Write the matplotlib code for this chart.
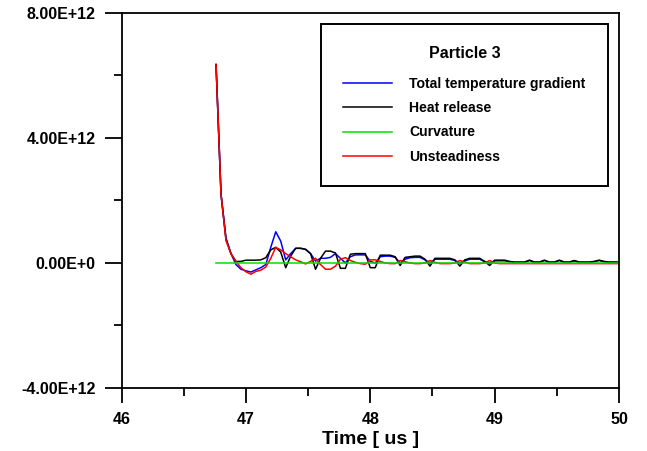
#!/usr/bin/env python3
"""
Particle 3: temperature gradient budget vs time.
"""

import matplotlib
matplotlib.use("Agg")
import matplotlib.pyplot as plt
from matplotlib.ticker import FixedLocator, MultipleLocator

# time samples [us]
time_us = [
    46.76, 46.80, 46.84, 46.88, 46.92, 46.96, 47.00, 47.04, 47.08, 47.12,
    47.16, 47.20, 47.24, 47.28, 47.32, 47.36, 47.40, 47.44, 47.48, 47.52,
    47.56, 47.60, 47.64, 47.68, 47.72, 47.76, 47.80, 47.84, 47.88, 47.92,
    47.96, 48.00, 48.04, 48.08, 48.12, 48.16, 48.20, 48.24, 48.28, 48.32,
    48.36, 48.40, 48.44, 48.48, 48.52, 48.56, 48.60, 48.64, 48.68, 48.72,
    48.76, 48.80, 48.84, 48.88, 48.92, 48.96, 49.00, 49.04, 49.08, 49.12,
    49.16, 49.20, 49.24, 49.28, 49.32, 49.36, 49.40, 49.44, 49.48, 49.52,
    49.56, 49.60, 49.64, 49.68, 49.72, 49.76, 49.80, 49.84, 49.88, 49.92,
    49.96, 50.00,
]

# values in units of 1e12
total_gradient = [
    6.35, 2.20, 0.80, 0.30, -0.05, -0.20, -0.25, -0.29, -0.22, -0.15,
    -0.05, 0.50, 1.00, 0.70, 0.10, 0.30, 0.47, 0.47, 0.43, 0.30,
    0.06, 0.15, 0.15, 0.18, 0.30, 0.15, 0.00, 0.20, 0.26, 0.26,
    0.26, 0.05, 0.00, 0.20, 0.22, 0.22, 0.18, 0.00, 0.12, 0.17,
    0.18, 0.18, 0.10, 0.00, 0.12, 0.12, 0.12, 0.12, 0.08, 0.00,
    0.07, 0.12, 0.12, 0.12, 0.04, 0.00, 0.07, 0.07, 0.07, 0.04,
    0.02, 0.02, 0.02, 0.08, 0.02, 0.02, 0.08, 0.02, 0.02, 0.08,
    0.02, 0.02, 0.07, 0.02, 0.02, 0.02, 0.04, 0.08, 0.04, 0.02,
    0.02, 0.02,
]

heat_release = [
    6.35, 2.20, 0.75, 0.30, 0.05, 0.05, 0.09, 0.09, 0.09, 0.10,
    0.17, 0.42, 0.50, 0.35, -0.15, 0.22, 0.47, 0.47, 0.44, 0.30,
    -0.20, 0.15, 0.38, 0.38, 0.32, -0.17, -0.17, 0.28, 0.30, 0.30,
    0.30, -0.15, -0.15, 0.25, 0.25, 0.25, 0.20, -0.08, 0.18, 0.20,
    0.22, 0.22, 0.12, -0.10, 0.15, 0.15, 0.15, 0.15, 0.10, -0.10,
    0.10, 0.15, 0.15, 0.15, 0.05, -0.08, 0.09, 0.09, 0.09, 0.05,
    0.03, 0.03, 0.03, 0.09, 0.03, 0.03, 0.09, 0.03, 0.03, 0.09,
    0.03, 0.03, 0.08, 0.03, 0.03, 0.03, 0.05, 0.09, 0.05, 0.03,
    0.03, 0.03,
]

curvature = [0.0] * 82

unsteadiness = [
    6.35, 2.20, 0.72, 0.30, 0.05, -0.15, -0.28, -0.36, -0.27, -0.23,
    -0.13, 0.15, 0.50, 0.42, 0.30, 0.20, 0.10, 0.04, -0.03, 0.05,
    0.15, -0.05, -0.20, -0.20, -0.10, 0.12, 0.17, 0.08, 0.02, -0.02,
    -0.04, 0.10, 0.10, 0.05, 0.00, -0.02, -0.02, 0.08, 0.04, 0.00,
    -0.02, -0.02, 0.00, 0.08, 0.02, -0.02, -0.02, -0.02, 0.00, 0.08,
    0.03, -0.02, -0.02, -0.02, 0.00, 0.08, 0.00, -0.02, -0.02, -0.02,
    -0.02, -0.02, -0.02, -0.02, -0.02, -0.02, -0.02, -0.02, -0.02, -0.02,
    -0.02, -0.02, -0.02, -0.02, -0.02, -0.02, -0.02, -0.02, -0.02, -0.02,
    -0.02, -0.02,
]

y_ticks = [-4e12, 0.0, 4e12, 8e12]
y_tick_labels = ["-4.00E+12", "0.00E+0", "4.00E+12", "8.00E+12"]
x_ticks = [46, 47, 48, 49, 50]


def main():
    plt.rcParams.update({
        "font.family": ["Liberation Sans", "DejaVu Sans"],
        "font.weight": "bold",
        "axes.linewidth": 1.3,
    })

    fig = plt.figure(figsize=(6.47, 4.51), dpi=100)
    ax = fig.add_axes([0.1878, 0.1397, 0.7690, 0.8315])

    scale = 1e12
    lw = 1.1
    l_tot, = ax.plot(time_us, [v * scale for v in total_gradient], color="#0000ff", lw=lw)
    l_heat, = ax.plot(time_us, [v * scale for v in heat_release], color="black", lw=lw)
    l_unst, = ax.plot(time_us, [v * scale for v in unsteadiness], color="#ff0000", lw=lw)
    l_curv, = ax.plot(time_us, [v * scale for v in curvature], color="#00e000", lw=lw)

    ax.set_xlim(46, 50)
    ax.set_ylim(-4e12, 8e12)
    ax.xaxis.set_major_locator(FixedLocator(x_ticks))
    ax.xaxis.set_minor_locator(MultipleLocator(0.5))
    ax.yaxis.set_major_locator(FixedLocator(y_ticks))
    ax.yaxis.set_minor_locator(MultipleLocator(2e12))
    ax.set_yticklabels(y_tick_labels)
    ax.set_xticklabels([str(t) for t in x_ticks])

    ax.tick_params(axis="both", which="major", direction="out", width=1.3,
                   labelsize=11.5, colors="black")
    ax.tick_params(axis="y", which="major", length=12.5, pad=6)
    ax.tick_params(axis="x", which="major", length=10.5, pad=7)
    ax.tick_params(axis="both", which="minor", direction="out", length=6, width=1.3)
    for lab in ax.get_xticklabels() + ax.get_yticklabels():
        lab.set_fontweight("bold")

    ax.set_xlabel("Time [ us ]", fontsize=14, fontweight="bold", labelpad=3)

    leg = ax.legend(
        [l_tot, l_heat, l_curv, l_unst],
        ["Total temperature gradient", "Heat release", "Curvature", "Unsteadiness"],
        title="Particle 3",
        loc="upper right",
        bbox_to_anchor=(608 / 647, (451 - 24) / 451),
        bbox_transform=fig.transFigure,
        borderaxespad=0,
        fancybox=False,
        edgecolor="black",
        framealpha=1,
        prop={"weight": "bold", "size": 10.1},
        handlelength=3.5,
        handletextpad=1.2,
        labelspacing=0.74,
        borderpad=1.6,
    )
    leg.get_title().set_fontweight("bold")
    leg.get_title().set_fontsize(11.5)
    leg.get_frame().set_linewidth(1.4)
    leg._legend_box.sep = 11

    fig.savefig("out.png", dpi=100)
    plt.close(fig)


if __name__ == "__main__":
    main()
